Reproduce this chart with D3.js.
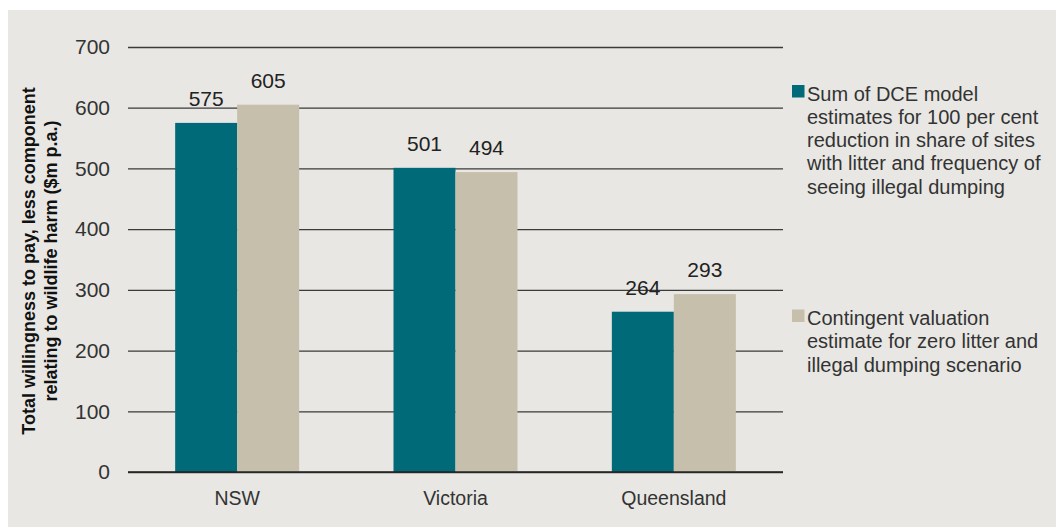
<!DOCTYPE html>
<html><head><meta charset="utf-8">
<script src="https://cdn.jsdelivr.net/npm/d3@7"></script>
<style>
html,body{margin:0;padding:0;background:#fff;}
svg{display:block;}
text{font-family:"Liberation Sans",Arial,sans-serif;}
</style></head>
<body><svg id="chart" width="1056" height="528"></svg>
<script>
const categories = ["NSW", "Victoria", "Queensland"];
const seriesNames = [
  ["Sum of DCE model", "estimates for 100 per cent", "reduction in share of sites", "with litter and frequency of", "seeing illegal dumping"],
  ["Contingent valuation", "estimate for zero litter and", "illegal dumping scenario"]
];
const dceValues = [575, 501, 264];
const cvValues = [605, 494, 293];
const yTicks = [0, 100, 200, 300, 400, 500, 600, 700];
const colors = ["#006A78", "#C6BFAC"];

const svg = d3.select("#chart");
svg.append("rect").attr("x", 8).attr("y", 10).attr("width", 1048).attr("height", 517).attr("fill", "#E8E7E3");

const m = {left: 128, right: 783, top: 47, bottom: 472};
const x = d3.scaleBand().domain(categories).range([m.left, m.right]).paddingInner(0).paddingOuter(0);
const y = d3.scaleLinear().domain([0, 700]).range([m.bottom, m.top]);
const barW = 62;
const x1 = d3.scaleBand().domain([0, 1]).range([0, barW * 2]);

// gridlines
const yAxis = d3.axisLeft(y).tickValues(yTicks).tickSize(-(m.right - m.left)).tickPadding(18);
const ga = svg.append("g").attr("transform", `translate(${m.left},0)`).call(yAxis);
ga.select(".domain").remove();
ga.selectAll(".tick line").attr("stroke", "#3a3a3a").attr("stroke-width", 1.3);
ga.selectAll(".tick text").attr("font-size", 21).attr("fill", "#333");

const data = categories.map((c, i) => ({c, vals: [dceValues[i], cvValues[i]]}));
const groups = svg.selectAll("g.cat").data(data).join("g").attr("class", "cat")
  .attr("transform", d => `translate(${x(d.c) + x.bandwidth() / 2 - barW},0)`);
groups.selectAll("rect").data(d => d.vals.map((v, k) => ({v, k}))).join("rect")
  .attr("x", d => x1(d.k)).attr("width", x1.bandwidth())
  .attr("y", d => y(d.v)).attr("height", d => y(0) - y(d.v))
  .attr("fill", d => colors[d.k]);
groups.selectAll("text").data(d => d.vals.map((v, k) => ({v, k}))).join("text")
  .attr("x", d => x1(d.k) + x1.bandwidth() / 2).attr("y", d => y(d.v) - 17)
  .attr("text-anchor", "middle").attr("font-size", 21).attr("fill", "#222").text(d => d.v);

// baseline
svg.append("line").attr("x1", m.left).attr("x2", m.right).attr("y1", y(0)).attr("y2", y(0))
  .attr("stroke", "#222").attr("stroke-width", 1.5);

// x axis labels
const xAxis = d3.axisBottom(x).tickSize(0).tickPadding(19);
const gx = svg.append("g").attr("transform", `translate(0,${m.bottom})`).call(xAxis);
gx.select(".domain").remove();
gx.selectAll(".tick text").attr("font-size", 19.5).attr("fill", "#333");

// y title
const yt = svg.append("text").attr("transform", "translate(35,261) rotate(-90)")
  .attr("text-anchor", "middle").attr("font-size", 18).attr("font-weight", "bold").attr("fill", "#111");
yt.append("tspan").attr("x", 0).attr("dy", 0).text("Total willingness to pay, less component");
yt.append("tspan").attr("x", 0).attr("dy", 22).text("relating to wildlife harm ($m p.a.)");

// legend
const legY = [100.5, 325];
seriesNames.forEach((lines, i) => {
  svg.append("rect").attr("x", 792).attr("y", legY[i] - 15.5).attr("width", 12.5).attr("height", 12.5).attr("fill", colors[i]);
  const t = svg.append("text").attr("x", 807).attr("y", legY[i]).attr("font-size", 20).attr("fill", "#333");
  lines.forEach((l, j) => t.append("tspan").attr("x", 807).attr("dy", j ? 23.3 : 0).text(l));
});
</script></body></html>
